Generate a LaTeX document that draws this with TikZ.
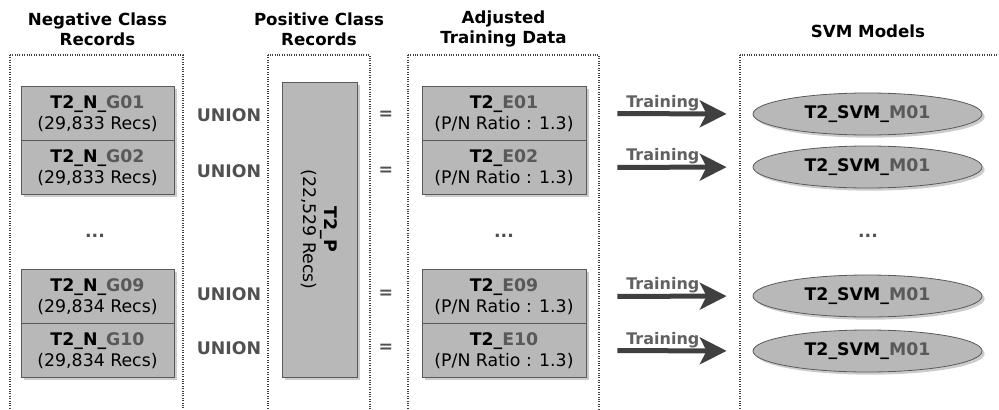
\documentclass[tikz,border=0pt]{standalone}
\usepackage{fontspec}
\setmainfont{DejaVu Sans}
\usetikzlibrary{arrows.meta,shapes.geometric,shadows}
\definecolor{boxgray}{HTML}{B8B8B8}
\definecolor{edgegray}{HTML}{5A5A5A}
\definecolor{idgray}{HTML}{595959}
\definecolor{wordgray}{HTML}{505050}
\definecolor{arrowgray}{HTML}{404040}
\newcommand{\idpart}[1]{\textcolor{idgray}{#1}}
\tikzset{
  recbox/.style={draw=edgegray, fill=boxgray, line width=0.6pt, align=center, inner sep=0pt,
    font=\fontsize{13}{16}\selectfont,
    drop shadow={shadow xshift=2pt, shadow yshift=-2pt, opacity=0.4}},
  nbox/.style={recbox, minimum width=114.75pt, minimum height=40.5pt},
  ebox/.style={recbox, minimum width=123pt, minimum height=40.5pt},
  pbox/.style={recbox, minimum width=56.25pt, minimum height=221.25pt},
  svm/.style={recbox, ellipse, minimum width=171.75pt, minimum height=31.5pt, font=\fontsize{13}{16}\selectfont\bfseries},
  grp/.style={draw=black!75, densely dotted, line width=0.8pt},
  ttl/.style={align=center, font=\fontsize{12.5}{15}\selectfont\bfseries},
  opword/.style={text=wordgray, font=\fontsize{13}{16}\selectfont\bfseries},
  trainarrow/.style={draw=arrowgray, line width=3.75pt, -{Stealth[length=20pt, width=20pt, inset=5pt]},
    shorten <=23.25pt, shorten >=19.5pt},
  trainlbl/.style={above, text=black!62, font=\fontsize{12}{14}\selectfont\bfseries, inner sep=0.5pt, xshift=-5pt}
}
\begin{document}
\begin{tikzpicture}[x=0.75pt, y=-0.75pt]
\clip (0,0) rectangle (999,410);
% titles
\node[ttl] (negttl) at (97.5,29) {Negative Class\\Records};
\node[ttl] (posttl) at (319,29) {Positive Class\\Records};
\node[ttl] (adjttl) at (503.5,29) {Adjusted\\Training Data};
\node[ttl] (svmttl) at (868,31) {SVM Models};
% groups
\draw[grp] (10,55) rectangle (183,420);
\draw[grp] (268,55) rectangle (370,420);
\draw[grp] (408,55) rectangle (599,420);
\draw[grp] (740,55) rectangle (1010,420);
% negative class records
\node[nbox] (g01) at (97.5,113.5) {\textbf{T2\_N\_\idpart{G01}}\\(29,833 Recs)};
\node[nbox] (g02) at (97.5,167.5) {\textbf{T2\_N\_\idpart{G02}}\\(29,833 Recs)};
\node[opword] (ndots) at (95,236) {...};
\node[nbox] (g09) at (97.5,296.5) {\textbf{T2\_N\_\idpart{G09}}\\(29,834 Recs)};
\node[nbox] (g10) at (97.5,350.5) {\textbf{T2\_N\_\idpart{G10}}\\(29,834 Recs)};
% union
\node[opword] (u01) at (229,115) {UNION};
\node[opword] (u02) at (229,171) {UNION};
\node[opword] (u09) at (229,294) {UNION};
\node[opword] (u10) at (229,348) {UNION};
% positive class records
\node[pbox] (tp) at (319.5,229.5) {};
\node[rotate=-90, align=center, font=\fontsize{13}{16}\selectfont] (tplbl) at (tp.center) {\textbf{T2\_P}\\(22,529 Recs)};
% equals
\node[opword] (q01) at (386,115) {=};
\node[opword] (q02) at (386,171) {=};
\node[opword] (q09) at (386,294) {=};
\node[opword] (q10) at (386,348) {=};
% adjusted training data
\node[ebox] (e01) at (504,113.5) {\textbf{T2\_\idpart{E01}}\\(P/N Ratio : 1.3)};
\node[ebox] (e02) at (504,167.5) {\textbf{T2\_\idpart{E02}}\\(P/N Ratio : 1.3)};
\node[opword] (edots) at (504,236) {...};
\node[ebox] (e09) at (504,296.5) {\textbf{T2\_\idpart{E09}}\\(P/N Ratio : 1.3)};
\node[ebox] (e10) at (504,350.5) {\textbf{T2\_\idpart{E10}}\\(P/N Ratio : 1.3)};
% svm models
\node[svm] (m01) at (867.5,114) {T2\_SVM\_\idpart{M01}};
\node[svm] (m02) at (867.5,167) {T2\_SVM\_\idpart{M01}};
\node[opword] (mdots) at (868,236) {...};
\node[svm] (m09) at (867.5,296) {T2\_SVM\_\idpart{M01}};
\node[svm] (m10) at (867.5,351) {T2\_SVM\_\idpart{M01}};
% training
\draw[trainarrow] (e01.east) -- node[trainlbl] {Training} (m01.west);
\draw[trainarrow] (e02.east) -- node[trainlbl] {Training} (m02.west);
\draw[trainarrow] (e09.east) -- node[trainlbl] {Training} (m09.west);
\draw[trainarrow] (e10.east) -- node[trainlbl] {Training} (m10.west);
\end{tikzpicture}
\end{document}
